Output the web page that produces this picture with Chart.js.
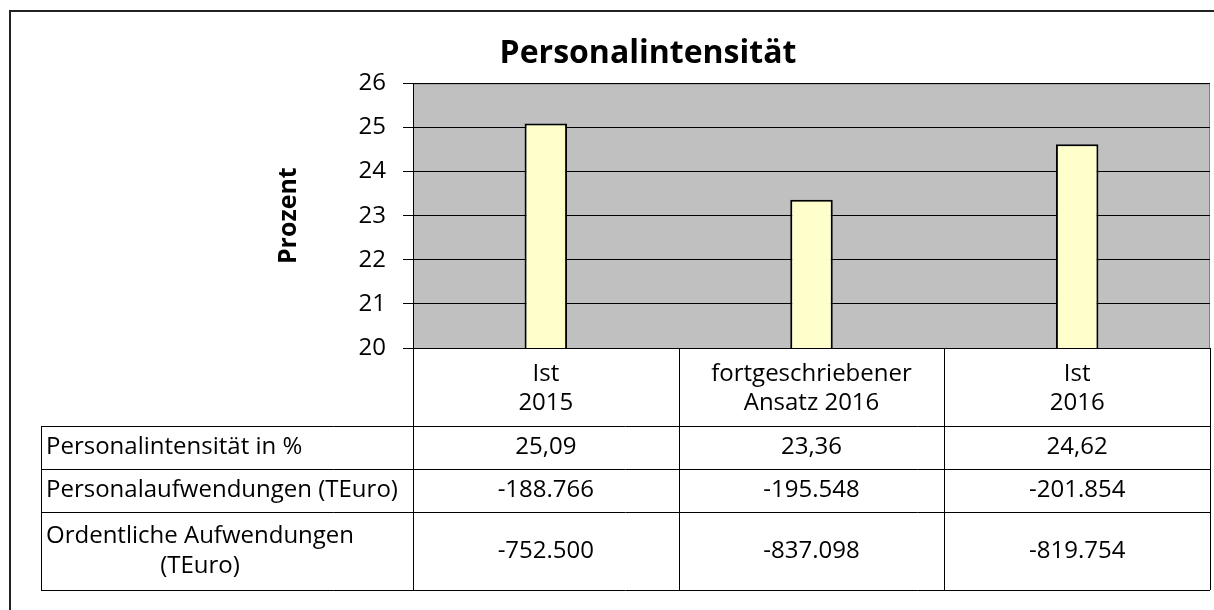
<!DOCTYPE html>
<html>
<head>
<meta charset="utf-8">
<script src="https://cdn.jsdelivr.net/npm/chart.js@4/dist/chart.umd.min.js"></script>
<style>
  html, body { margin: 0; padding: 0; background: #fff; }
  #wrap { width: 1214px; height: 610px; }
</style>
</head>
<body>
<div id="wrap"><canvas id="chart" width="1214" height="610"></canvas></div>
<script>
// chart data
var categories = [['Ist', '2015'], ['fortgeschriebener', 'Ansatz 2016'], ['Ist', '2016']];
var intensity = [25.09, 23.36, 24.62];
var personalCosts = [-188766, -195548, -201854];
var ordinaryCosts = [-752500, -837098, -819754];
var rowLabels = ['Personalintensität in %', 'Personalaufwendungen (TEuro)', ['Ordentliche Aufwendungen', '(TEuro)']];
var yMin = 20, yMax = 26, yStep = 1;

var FONT = "'Open Sans', sans-serif";

function fmtPct(v) {
    return v.toLocaleString('de-DE', { minimumFractionDigits: 2, maximumFractionDigits: 2 });
}
function fmtInt(v) {
    return v.toLocaleString('de-DE');
}

// grey plot background
var plotBg = {
    id: 'plotBg',
    beforeDraw: function (chart) {
        var a = chart.chartArea, ctx = chart.ctx;
        ctx.save();
        ctx.fillStyle = '#C0C0C0';
        ctx.fillRect(a.left, a.top, a.right - a.left, a.bottom - a.top);
        ctx.strokeStyle = '#808080';
        ctx.lineWidth = 1;
        ctx.strokeRect(a.left + 0.5, a.top + 0.5, a.right - a.left - 1, a.bottom - a.top);
        ctx.restore();
    }
};

// data table under the chart + outer frame
var dataTable = {
    id: 'dataTable',
    afterDraw: function (chart) {
        var ctx = chart.ctx, a = chart.chartArea, x = chart.scales.x;
        var tableLeft = 41;
        var headerBottom = a.bottom + 78;
        var rowH = [43, 43, 78];
        var rows = [intensity.map(fmtPct), personalCosts.map(fmtInt), ordinaryCosts.map(fmtInt)];

        // column boundaries
        var bounds = [a.left];
        for (var i = 0; i < categories.length - 1; i++) {
            bounds.push((x.getPixelForValue(i) + x.getPixelForValue(i + 1)) / 2);
        }
        bounds.push(a.right);

        var tableBottom = headerBottom + rowH[0] + rowH[1] + rowH[2];

        ctx.save();
        ctx.strokeStyle = '#000';
        ctx.lineWidth = 1;
        ctx.beginPath();
        bounds.forEach(function (bx) {
            bx = Math.round(bx) + 0.5;
            ctx.moveTo(bx, a.bottom);
            ctx.lineTo(bx, tableBottom);
        });
        var y = headerBottom;
        ctx.moveTo(tableLeft, y + 0.5); ctx.lineTo(a.right, y + 0.5);
        rowH.forEach(function (h) {
            y += h;
            ctx.moveTo(tableLeft, y + 0.5); ctx.lineTo(a.right, y + 0.5);
        });
        ctx.moveTo(tableLeft + 0.5, headerBottom); ctx.lineTo(tableLeft + 0.5, tableBottom);
        ctx.stroke();

        // texts
        ctx.fillStyle = '#000';
        ctx.font = '24px ' + FONT;
        ctx.textBaseline = 'middle';
        y = headerBottom;
        rows.forEach(function (vals, r) {
            var cy = y + rowH[r] / 2;
            var lab = rowLabels[r];
            ctx.textAlign = 'left';
            if (Array.isArray(lab)) {
                var w0 = ctx.measureText(lab[0]).width;
                ctx.fillText(lab[0], tableLeft + 5, cy - 15);
                ctx.textAlign = 'center';
                ctx.fillText(lab[1], tableLeft + 5 + w0 / 2, cy + 15);
            } else {
                ctx.fillText(lab, tableLeft + 5, cy);
            }
            ctx.textAlign = 'center';
            vals.forEach(function (v, i) {
                ctx.fillText(v, x.getPixelForValue(i), cy);
            });
            y += rowH[r];
        });

        // outer frame
        ctx.strokeStyle = '#222';
        ctx.lineWidth = 2;
        ctx.beginPath();
        ctx.moveTo(10, 610);
        ctx.lineTo(10, 11);
        ctx.lineTo(1214, 11);
        ctx.stroke();
        ctx.restore();
    }
};

var ctx = document.getElementById('chart').getContext('2d');

var chart = new Chart(ctx, {
    type: 'bar',
    data: {
        labels: categories,
        datasets: [{
            label: 'Personalintensität in %',
            data: intensity,
            backgroundColor: '#FFFFCC',
            borderColor: '#000',
            borderWidth: 2,
            barPercentage: 0.16,
            categoryPercentage: 1
        }]
    },
    options: {
        responsive: false,
        animation: false,
        layout: { padding: { left: 86, right: 4, top: 0, bottom: 184 } },
        plugins: {
            legend: { display: false },
            tooltip: { enabled: false },
            title: {
                display: true,
                text: 'Personalintensität',
                color: '#000',
                font: { family: FONT, size: 32, weight: 'bold' },
                padding: { top: 35, bottom: 10 }
            }
        },
        scales: {
            x: {
                grid: { display: false },
                border: { display: false },
                ticks: {
                    color: '#000',
                    font: { family: FONT, size: 24 },
                    padding: 4,
                    maxRotation: 0
                },
                afterFit: function (s) { s.height = 78; }
            },
            y: {
                min: yMin,
                max: yMax,
                grid: { color: '#000', lineWidth: 1, tickLength: 10 },
                border: { color: '#000', width: 1 },
                ticks: {
                    stepSize: yStep,
                    color: '#000',
                    padding: 17,
                    font: { family: FONT, size: 24 }
                },
                title: {
                    display: true,
                    text: 'Prozent',
                    color: '#000',
                    font: { family: FONT, size: 25, weight: 'bold' },
                    padding: { top: 188, bottom: 0 }
                },
                afterFit: function (s) { s.width = 413 - 86; }
            }
        }
    },
    plugins: [plotBg, dataTable]
});
</script>
</body>
</html>
